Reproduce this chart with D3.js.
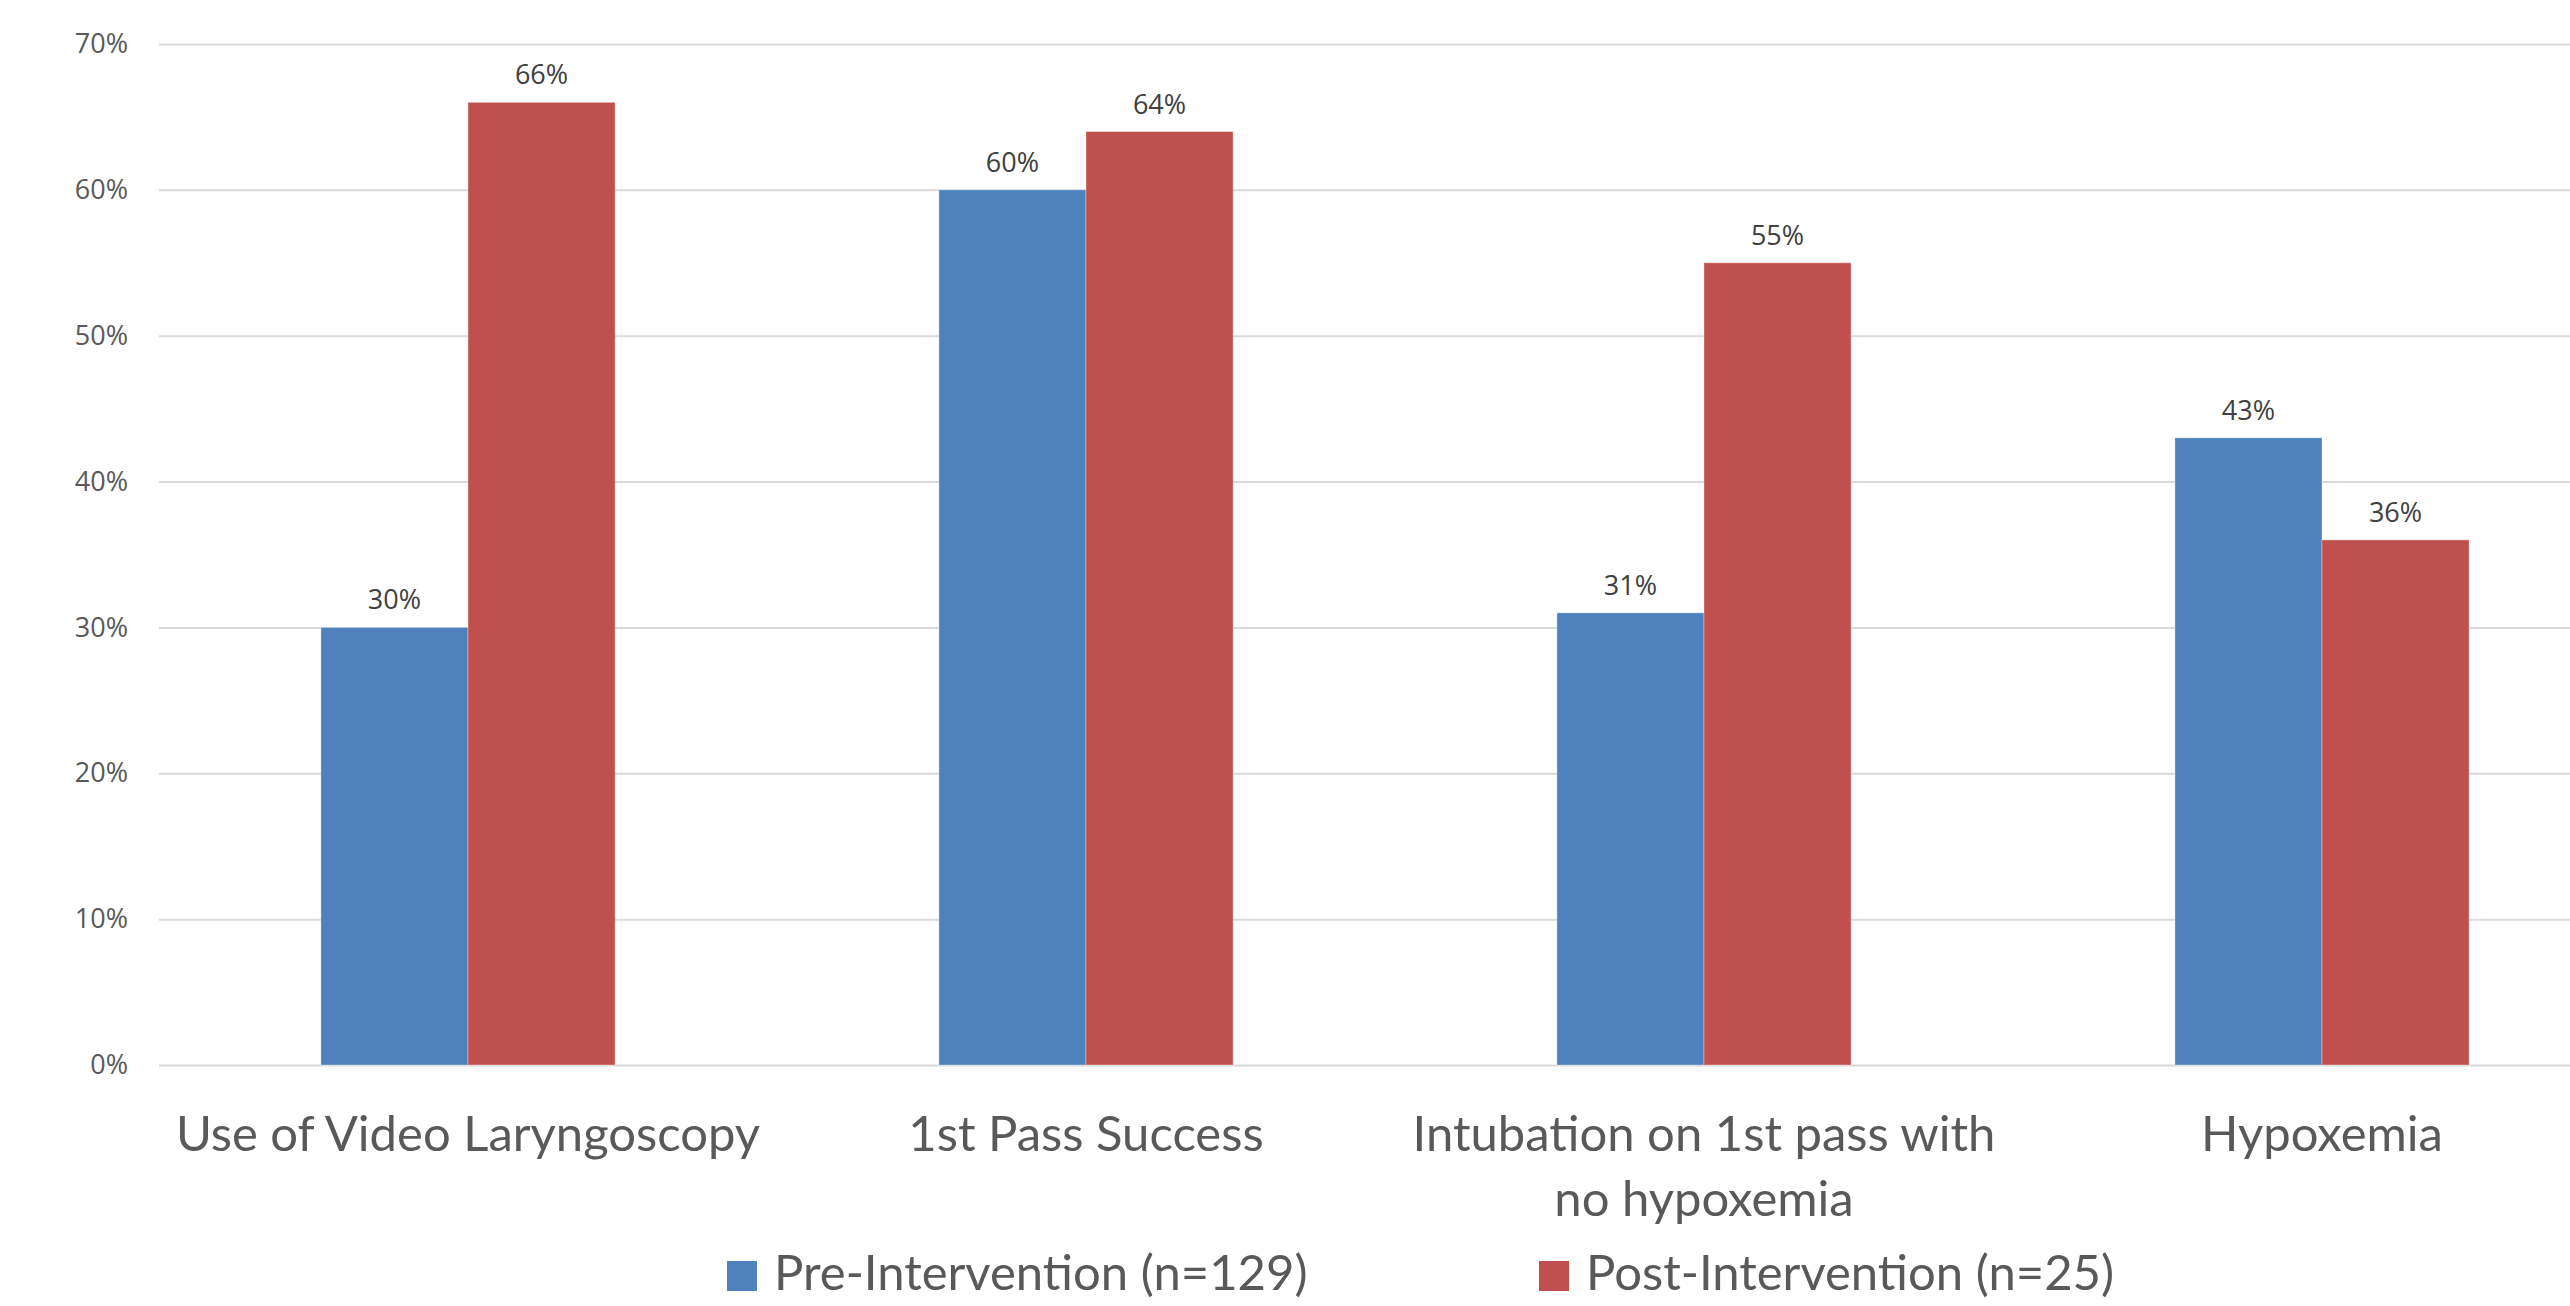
<!DOCTYPE html>
<html>
<head>
<meta charset="utf-8">
<script src="https://cdn.jsdelivr.net/npm/d3@7"></script>
<style>
  body { margin: 0; background: #fff; }
  svg { display: block; }
</style>
</head>
<body>
<div id="chart"></div>
<script>
/****************************/
/*          Data            */
/****************************/
const categories = [
  ["Use of Video Laryngoscopy"],
  ["1st Pass Success"],
  ["Intubation on 1st pass with", "no hypoxemia"],
  ["Hypoxemia"]
];
const seriesNames = ["Pre-Intervention (n=129)", "Post-Intervention (n=25)"];
const preValues  = [30, 60, 31, 43];
const postValues = [66, 64, 55, 36];
const yTicks = [0, 10, 20, 30, 40, 50, 60, 70];
const colors = ["#4F81BD", "#C0504D"];

/****************************/
/*         Layout           */
/****************************/
const width = 2570;
const height = 1306;
const plotLeft = 159;
const plotRight = 2631;   // plot area runs past the right edge, as in the original
const plotTop = 44;
const plotBottom = 1065;

const svg = d3.select("#chart")
  .append("svg")
    .attr("width", width)
    .attr("height", height);

const catKeys = categories.map(c => c.join(" "));

const rows = catKeys.map((k, i) => ({
  key: k,
  lines: categories[i],
  values: [preValues[i], postValues[i]]
}));

const x0 = d3.scaleBand()
  .domain(catKeys)
  .range([plotLeft, plotRight])
  .paddingInner(0.524)
  .paddingOuter(0.262);

const x1 = d3.scaleBand()
  .domain([0, 1])
  .range([0, x0.bandwidth()]);

const yScale = d3.scaleLinear()
  .domain([0, 70])
  .range([plotBottom, plotTop]);

/****************************/
/*      Grid and axis       */
/****************************/
const yAxis = svg.append("g")
  .attr("transform", `translate(${plotLeft}, 0)`)
  .call(d3.axisLeft(yScale)
    .tickValues(yTicks)
    .tickSize(-(plotRight - plotLeft))
    .tickPadding(31)
    .tickFormat(d => d + "%"));

yAxis.select(".domain").remove();
yAxis.selectAll(".tick line")
  .attr("stroke", "#D9D9D9")
  .attr("stroke-width", 2);
yAxis.selectAll(".tick text")
  .attr("fill", "#595959")
  .style("font-family", "'Open Sans', sans-serif")
  .style("font-size", "27px");

/****************************/
/*          Bars            */
/****************************/
const groups = svg.append("g")
  .selectAll(".group")
  .data(rows)
  .join("g")
    .attr("class", "group")
    .attr("transform", d => `translate(${x0(d.key)}, 0)`);

groups.selectAll("rect")
  .data(d => d.values.map((v, i) => ({ v, i })))
  .join("rect")
    .attr("x", d => x1(d.i))
    .attr("y", d => yScale(d.v))
    .attr("width", x1.bandwidth())
    .attr("height", d => plotBottom - yScale(d.v))
    .attr("fill", d => colors[d.i])
    .attr("stroke", "#ffffff")
    .attr("stroke-opacity", 0.35)
    .attr("stroke-width", 1);

groups.selectAll(".value-label")
  .data(d => d.values.map((v, i) => ({ v, i })))
  .join("text")
    .attr("class", "value-label")
    .attr("x", d => x1(d.i) + x1.bandwidth() / 2)
    .attr("y", d => yScale(d.v) - 18)
    .attr("text-anchor", "middle")
    .attr("fill", "#404040")
    .style("font-family", "'Open Sans', sans-serif")
    .style("font-size", "27px")
    .text(d => d.v + "%");

/****************************/
/*     Category labels      */
/****************************/
const catLabels = svg.append("g")
  .selectAll("text")
  .data(rows)
  .join("text")
    .attr("x", d => x0(d.key) + x0.bandwidth() / 2)
    .attr("y", plotBottom + 86)
    .attr("text-anchor", "middle")
    .attr("fill", "#595959")
    .style("font-family", "Lato, sans-serif")
    .style("font-size", "49px");

catLabels.selectAll("tspan")
  .data(d => d.lines)
  .join("tspan")
    .attr("x", function () { return d3.select(this.parentNode).attr("x"); })
    .attr("dy", (_, i) => i === 0 ? 0 : 65)
    .text(d => d);

/****************************/
/*         Legend           */
/****************************/
const legendX = d3.scaleBand()
  .domain([0, 1])
  .range([727, 2351]);

const legend = svg.append("g")
  .selectAll(".legend-item")
  .data(seriesNames)
  .join("g")
    .attr("class", "legend-item")
    .attr("transform", (_, i) => `translate(${legendX(i)}, 1261)`);

legend.append("rect")
  .attr("width", 30)
  .attr("height", 30)
  .attr("fill", (_, i) => colors[i]);

legend.append("text")
  .attr("x", 47)
  .attr("y", 29)
  .attr("fill", "#595959")
  .style("font-family", "Lato, sans-serif")
  .style("font-size", "49px")
  .text(d => d);
</script>
</body>
</html>
